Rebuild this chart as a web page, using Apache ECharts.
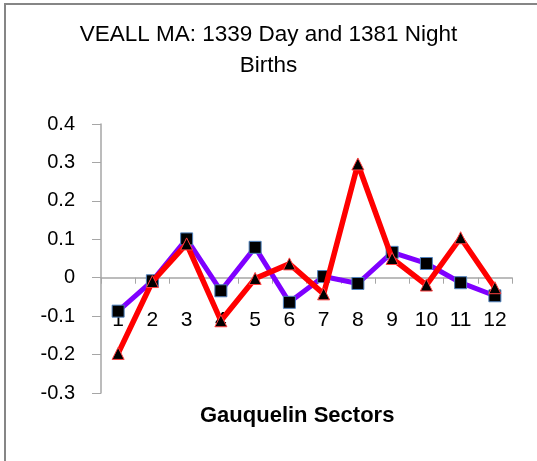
<!DOCTYPE html>
<html>
<head>
<meta charset="utf-8">
<script src="https://cdn.jsdelivr.net/npm/echarts@6/dist/echarts.min.js"></script>
<style>html,body{margin:0;padding:0;background:#fff}#c{width:537px;height:461px}</style>
</head>
<body>
<div id="c"></div>
<script>
const categories = ['1','2','3','4','5','6','7','8','9','10','11','12'];
const daySeries = [-0.087, -0.008, 0.101, -0.034, 0.079, -0.064, 0.003, -0.015, 0.066, 0.037, -0.013, -0.047];
const nightSeries = [-0.197, -0.01, 0.088, -0.112, -0.002, 0.036, -0.042, 0.296, 0.05, -0.019, 0.104, -0.026];
const yTicks = {min: -0.3, max: 0.4, interval: 0.1};
const titleText = 'VEALL MA: 1339 Day and 1381 Night\nBirths';
const xName = 'Gauquelin Sectors';

const gridTop = 124, gridBottom = 68, H = 461;
const gridH = H - gridTop - gridBottom;
const zeroOffset = -gridH * (0 - yTicks.min) / (yTicks.max - yTicks.min);

const chart = echarts.init(document.getElementById('c'), null, {renderer: 'canvas'});
const font = '"Liberation Sans", Arial, sans-serif';
chart.setOption({
  animation: false,
  backgroundColor: '#fff',
  title: {
    text: titleText,
    left: 'center',
    top: 14,
    textStyle: {fontFamily: font, fontSize: 22.5, fontWeight: 'normal', color: '#000', lineHeight: 31}
  },
  grid: {left: 101, right: 25, top: gridTop, bottom: gridBottom, containLabel: false},
  xAxis: {
    type: 'category',
    data: categories,
    boundaryGap: true,
    position: 'bottom',
    offset: zeroOffset,
    axisLine: {onZero: false, lineStyle: {color: '#a6a6a6', width: 1.5}},
    axisTick: {show: true, length: 6, lineStyle: {color: '#a6a6a6'}},
    axisLabel: {fontFamily: font, fontSize: 21, color: '#000', margin: 32, interval: 0}
  },
  yAxis: {
    type: 'value',
    min: yTicks.min, max: yTicks.max, interval: yTicks.interval,
    splitLine: {show: false},
    axisLine: {show: true, lineStyle: {color: '#a6a6a6', width: 1.5}},
    axisTick: {show: true, length: 9, lineStyle: {color: '#a6a6a6'}},
    axisLabel: {fontFamily: font, fontSize: 20, color: '#000', margin: 26,
      formatter: v => (Math.round(v*10)/10).toString()}
  },
  series: [
    {
      type: 'line', data: daySeries, z: 2,
      lineStyle: {color: '#7f00ff', width: 5},
      itemStyle: {color: '#000', borderColor: '#4f81bd', borderWidth: 1},
      symbol: 'rect', symbolSize: 12, showAllSymbol: true
    },
    {
      type: 'line', data: nightSeries, z: 3,
      lineStyle: {color: '#ff0000', width: 5.5},
      itemStyle: {color: '#000', borderColor: '#ff4040', borderWidth: 1},
      symbol: 'triangle', symbolSize: 12, showAllSymbol: true
    }
  ],
  graphic: [
    {type: 'line', shape: {x1: 4, y1: 4, x2: 537, y2: 4}, style: {stroke: '#868686', lineWidth: 2}},
    {type: 'line', shape: {x1: 5, y1: 3, x2: 5, y2: 461}, style: {stroke: '#868686', lineWidth: 2}},
    {type: 'text', left: 200, top: 405, style: {text: xName, font: 'bold 22px ' + font, fill: '#000'}}
  ]
});
</script>
</body>
</html>
